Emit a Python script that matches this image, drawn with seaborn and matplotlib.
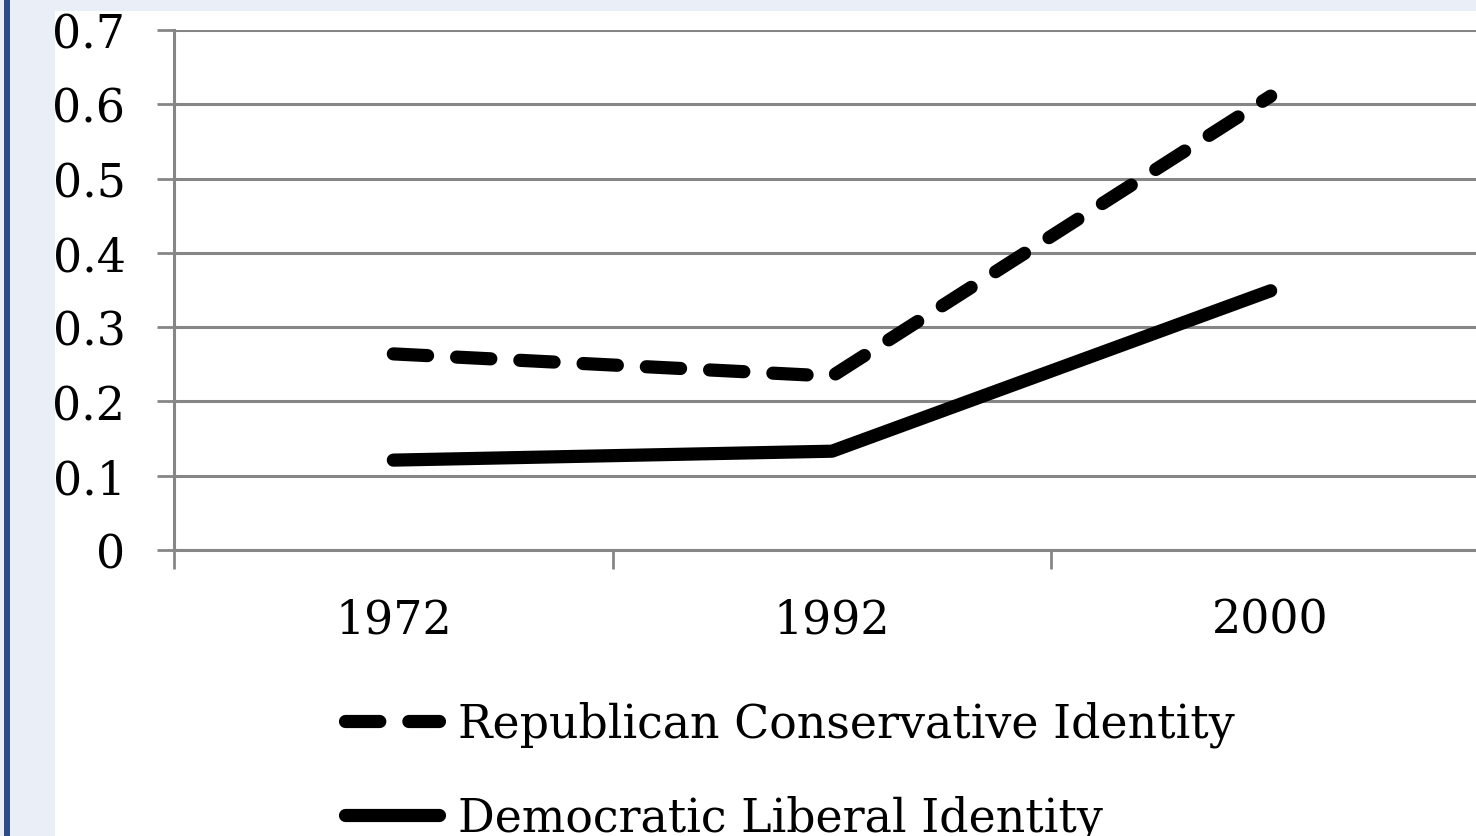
import matplotlib
matplotlib.use("Agg")
import matplotlib.pyplot as plt
from matplotlib.lines import Line2D
from matplotlib.patches import Rectangle
import seaborn as sns
import pandas as pd

years = ["1972", "1992", "2000"]
republican_conservative = [0.264, 0.234, 0.611]
democratic_liberal = [0.121, 0.133, 0.349]
series_names = ["Republican Conservative Identity", "Democratic Liberal Identity"]
y_ticks = [0, 0.1, 0.2, 0.3, 0.4, 0.5, 0.6, 0.7]
y_tick_labels = ["0", "0.1", "0.2", "0.3", "0.4", "0.5", "0.6", "0.7"]

sns.set_theme(style="white")
plt.rcParams["font.family"] = ["DejaVu Serif"]
plt.rcParams["text.color"] = "black"
plt.rcParams["xtick.labelcolor"] = "black"
plt.rcParams["ytick.labelcolor"] = "black"

W, H = 1476, 837
FS = 33
LW = 9.5
DASH = (2.6, 2.2)

fig = plt.figure(figsize=(W / 100, H / 100), dpi=100)
fig.patch.set_facecolor("white")

# light slide frame around the chart
band = "#e9eef7"
fig.add_artist(Rectangle((0, 0), 55 / W, 1, transform=fig.transFigure,
                         facecolor=band, edgecolor="none", zorder=0))
fig.add_artist(Rectangle((0, 1 - 12 / H), 1, 12 / H, transform=fig.transFigure,
                         facecolor=band, edgecolor="none", zorder=0))
fig.add_artist(Rectangle((4 / W, 0), 6 / W, 1, transform=fig.transFigure,
                         facecolor="#2b4c87", edgecolor="none", zorder=1))

ax = fig.add_axes([174 / W, (H - 551) / H, (1490 - 174) / W, 520 / H])
ax.set_facecolor("white")

pos = list(range(len(years)))
df = pd.DataFrame({
    "x": pos * 2,
    "y": republican_conservative + democratic_liberal,
    "series": [series_names[0]] * 3 + [series_names[1]] * 3,
})

sns.lineplot(data=df, x="x", y="y", hue="series", style="series",
             palette=["black", "black"], dashes=[DASH, ""],
             linewidth=LW, ax=ax, legend=False, sort=False)
for ln in ax.lines:
    ln.set_dash_capstyle("round")
    ln.set_solid_capstyle("round")
    ln.set_solid_joinstyle("round")
    ln.set_dash_joinstyle("round")
    ln.set_zorder(5)

ax.set_xlim(-0.5, 2.5)
ax.set_ylim(0, 0.7)
ax.set_xlabel("")
ax.set_ylabel("")

grid_col = "#868686"
ax.set_yticks(y_ticks)
ax.set_yticklabels(y_tick_labels)
ax.yaxis.grid(True, color=grid_col, linewidth=2.2)
ax.xaxis.grid(False)

ax.set_xticks([-0.5, 0.5, 1.5, 2.5])
ax.set_xticklabels([])
ax.set_xticks(pos, minor=True)
ax.set_xticklabels(years, minor=True)

ax.tick_params(axis="y", which="major", direction="out", length=12, width=2,
               color=grid_col, labelsize=FS, pad=23, left=True,
               labelcolor="black")
ax.tick_params(axis="x", which="major", direction="out", length=14, width=2,
               color=grid_col, bottom=True)
ax.tick_params(axis="x", which="minor", length=0, labelsize=FS, pad=34,
               labelcolor="black")

for side in ["top", "right"]:
    ax.spines[side].set_visible(False)
for side in ["left", "bottom"]:
    ax.spines[side].set_color(grid_col)
    ax.spines[side].set_linewidth(2.2)

handles = [
    Line2D([], [], color="black", linewidth=LW, linestyle=(0, DASH),
           dash_capstyle="round"),
    Line2D([], [], color="black", linewidth=LW, solid_capstyle="round"),
]
fig.legend(handles, series_names, loc="upper left",
           bbox_to_anchor=(345 / W, 1 - 702 / H), frameon=False,
           fontsize=FS, handlelength=2.05, handletextpad=0.42,
           labelspacing=1.03, borderpad=0, borderaxespad=0,
           labelcolor="black")

fig.savefig("out.png", dpi=100)
